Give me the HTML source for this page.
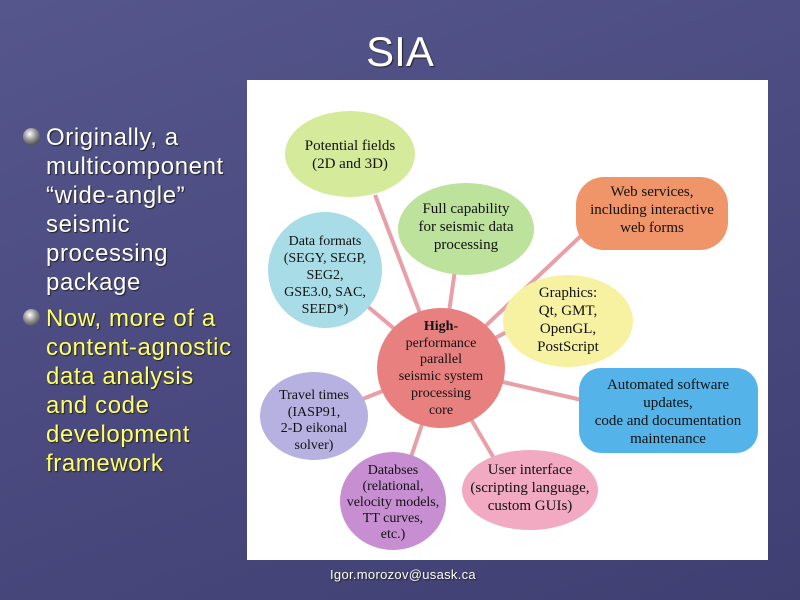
<!DOCTYPE html>
<html><head><meta charset="utf-8"><style>
body{margin:0;width:800px;height:600px;overflow:hidden;background:linear-gradient(160deg,#55568c 0%,#4a4a80 50%,#3f3f72 100%);font-family:"Liberation Sans",sans-serif;position:relative}
.t{position:absolute;color:#fff;text-shadow:1px 1px 1px #222}
.b{position:absolute;left:46px;font-size:24px;line-height:29px;text-shadow:1px 1px 1px #222;letter-spacing:0.6px}
.dot{position:absolute;left:23px;width:17px;height:17px;border-radius:50%;background:radial-gradient(circle at 40% 35%,#fff,#999 40%,#333 90%)}
</style></head><body>
<div class="t" style="left:0;width:800px;text-align:center;top:28px;font-size:42px">SIA</div>
<div class="dot" style="top:128px"></div>
<div class="b" style="top:123px;color:#fff">Originally, a<br>multicomponent<br>“wide-angle”<br>seismic<br>processing<br>package</div>
<div class="dot" style="top:309px"></div>
<div class="b" style="top:304px;color:#ffff66">Now, more of a<br>content-agnostic<br>data analysis<br>and code<br>development<br>framework</div>
<div class="t" style="left:330px;top:567px;font-size:13px;letter-spacing:0.3px">Igor.morozov@usask.ca</div>
<svg style="position:absolute;left:0;top:0" width="800" height="600" font-family="Liberation Serif,serif" font-size="15" text-anchor="middle" fill="#111">
<rect x="247" y="80" width="521" height="480" fill="#fff"/>
<g stroke="#e8a0a8" stroke-width="4">
<line x1="441" y1="368" x2="375" y2="195"/><line x1="441" y1="368" x2="455" y2="270"/>
<line x1="441" y1="368" x2="585" y2="232"/><line x1="441" y1="368" x2="360" y2="300"/>
<line x1="441" y1="368" x2="510" y2="330"/><line x1="441" y1="368" x2="582" y2="400"/>
<line x1="441" y1="368" x2="360" y2="400"/><line x1="441" y1="368" x2="410" y2="460"/>
<line x1="441" y1="368" x2="495" y2="460"/></g>
<ellipse cx="350" cy="154" rx="65" ry="43" fill="#d6ea9c"/>
<text x="350" y="150">Potential fields</text><text x="350" y="168">(2D and 3D)</text>
<ellipse cx="466" cy="229" rx="68" ry="46" fill="#bde29c"/>
<text x="466" y="213">Full capability</text><text x="466" y="231">for seismic data</text><text x="466" y="249">processing</text>
<rect x="576" y="177" width="152" height="73" rx="28" fill="#f0946a"/>
<text x="652" y="196">Web services,</text><text x="652" y="214">including interactive</text><text x="652" y="232">web forms</text>
<ellipse cx="325" cy="270" rx="57" ry="58" fill="#a8dce6"/>
<g font-size="14"><text x="325" y="245">Data formats</text><text x="325" y="262">(SEGY, SEGP,</text><text x="325" y="279">SEG2,</text><text x="325" y="296">GSE3.0, SAC,</text><text x="325" y="313">SEED*)</text></g>
<ellipse cx="568" cy="321" rx="65" ry="46" fill="#f7f1a2"/>
<text x="568" y="297">Graphics:</text><text x="568" y="315">Qt, GMT,</text><text x="568" y="333">OpenGL,</text><text x="568" y="351">PostScript</text>
<ellipse cx="441" cy="368" rx="64" ry="60" fill="#e98080"/>
<g font-size="14"><text x="441" y="330" font-weight="bold">High-</text><text x="441" y="347">performance</text><text x="441" y="363">parallel</text><text x="441" y="380">seismic system</text><text x="441" y="397">processing</text><text x="441" y="414">core</text></g>
<rect x="579" y="368" width="179" height="85" rx="22" fill="#54b4ea"/>
<text x="668" y="389">Automated software</text><text x="668" y="407">updates,</text><text x="668" y="425">code and documentation</text><text x="668" y="443">maintenance</text>
<ellipse cx="314" cy="416" rx="54" ry="44" fill="#b6b1e0"/>
<g font-size="14"><text x="314" y="399">Travel times</text><text x="314" y="416">(IASP91,</text><text x="314" y="432">2-D eikonal</text><text x="314" y="449">solver)</text></g>
<ellipse cx="393" cy="501" rx="53" ry="49" fill="#c78ed2"/>
<g font-size="14"><text x="393" y="474">Databses</text><text x="393" y="490">(relational,</text><text x="393" y="506">velocity models,</text><text x="393" y="522">TT curves,</text><text x="393" y="538">etc.)</text></g>
<ellipse cx="530" cy="490" rx="68" ry="40" fill="#f2aac2"/>
<text x="530" y="474">User interface</text><text x="530" y="492">(scripting language,</text><text x="530" y="510">custom GUIs)</text>
</svg>
</body></html>
